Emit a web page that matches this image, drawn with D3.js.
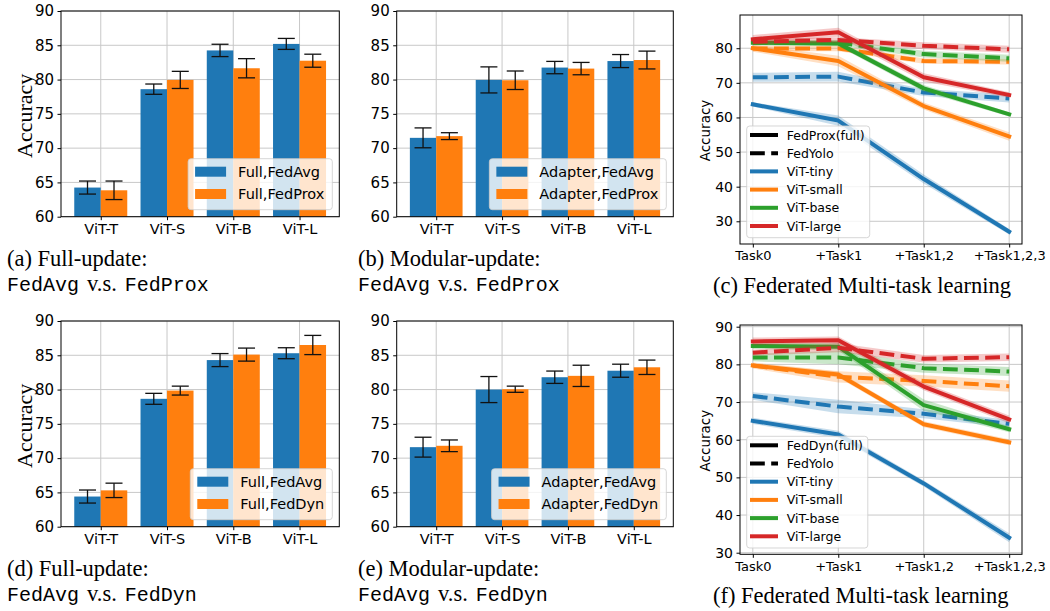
<!DOCTYPE html>
<html><head><meta charset="utf-8">
<script src="https://cdn.jsdelivr.net/npm/d3@7"></script>
<style>body{margin:0;background:#fff}</style>
</head><body><svg id="fig" width="1050" height="611" xmlns="http://www.w3.org/2000/svg"></svg>
<script>
// ---------------- DATA ----------------
const models = ["ViT-T","ViT-S","ViT-B","ViT-L"];
const barTicks = [60,65,70,75,80,85,90];
// (a) Full-update FedAvg vs FedProx
const aFedAvg = [64.25, 78.6, 84.25, 85.2];
const aFedAvgErr = [0.95, 0.75, 0.9, 0.8];
const aFedProx = [63.85, 79.95, 81.65, 82.75];
const aFedProxErr = [1.35, 1.25, 1.4, 0.95];
// (b) Modular-update FedAvg vs FedProx
const bFedAvg = [71.5, 79.95, 81.75, 82.7];
const bFedAvgErr = [1.45, 1.9, 0.9, 0.95];
const bFedProx = [71.75, 79.9, 81.6, 82.85];
const bFedProxErr = [0.5, 1.35, 0.9, 1.3];
// (d) Full-update FedAvg vs FedDyn
const dFedAvg = [64.4, 78.65, 84.3, 85.3];
const dFedAvgErr = [0.95, 0.8, 0.95, 0.8];
const dFedDyn = [65.3, 79.85, 85.1, 86.5];
const dFedDynErr = [1.05, 0.65, 0.95, 1.4];
// (e) Modular-update FedAvg vs FedDyn
const eFedAvg = [71.6, 80.0, 81.8, 82.75];
const eFedAvgErr = [1.45, 1.9, 0.9, 0.95];
const eFedDyn = [71.8, 80.05, 82.0, 83.25];
const eFedDynErr = [0.85, 0.45, 1.55, 1.05];

// Multi-task panels
const tasks = ["Task0","+Task1","+Task1,2","+Task1,2,3"];
const sizes = ["ViT-tiny","ViT-small","ViT-base","ViT-large"];
// (c) rows: tiny, small, base, large
const cFullMean = [[63.8,59.1,42.2,27.0],[80.0,76.3,63.3,54.5],[81.6,81.4,68.4,60.9],[82.6,84.6,71.6,66.5]];
const cFullStd  = [[0.6,1.5,1.3,0.8],[1.0,1.5,1.0,1.2],[0.6,0.8,1.0,0.6],[1.2,1.3,1.2,0.8]];
const cYoloMean = [[71.6,71.8,67.2,65.5],[79.9,79.9,76.3,76.1],[81.6,81.6,78.3,77.1],[81.9,82.4,80.7,79.7]];
const cYoloStd  = [[1.3,1.4,1.0,1.2],[0.8,0.8,0.8,0.8],[0.8,0.8,1.0,1.0],[0.8,0.8,1.0,1.0]];
const cTicks = [30,40,50,60,70,80];
// (f)
const fFullMean = [[65.0,61.4,48.4,34.0],[79.7,77.3,64.1,59.3],[84.9,84.7,69.2,62.8],[86.1,86.4,74.1,65.4]];
const fFullStd  = [[0.8,1.0,0.8,1.2],[0.6,0.8,0.8,0.8],[0.8,1.0,1.5,0.8],[1.0,1.0,1.0,1.0]];
const fYoloMean = [[71.6,68.8,66.9,64.2],[79.7,76.7,75.6,74.2],[81.8,81.8,79.0,78.1],[83.1,84.4,81.5,81.9]];
const fYoloStd  = [[1.0,1.8,1.2,1.0],[0.8,1.5,1.5,1.5],[1.0,1.8,1.2,1.2],[0.8,1.2,1.0,1.0]];
const fTicks = [30,40,50,60,70,80,90];

// ---------------- STYLE ----------------
const BLUE="#1f77b4", ORANGE="#ff7f0e", GREEN="#2ca02c", RED="#d62728";
const lineColors=[BLUE,ORANGE,GREEN,RED];
const SANS="'DejaVu Sans', sans-serif";
const SERIF="'Liberation Serif','Times New Roman', serif";
const MONO="'Liberation Mono', monospace";
const GRID="#c8c8c8";

const svg = d3.select("#fig");

function measure(txt, size, family){
  const t = svg.append("text").attr("font-family",family).attr("font-size",size).text(txt);
  const w = t.node().getComputedTextLength(); t.remove(); return w;
}

function barPanel(o){
  const g = svg.append("g");
  const x = d3.scaleLinear().domain([-0.6,3.6]).range([o.x0,o.x1]);
  const y = d3.scaleLinear().domain([60,90]).range([o.y1,o.y0]);
  g.append("g").selectAll("line").data(barTicks).join("line")
    .attr("x1",o.x0).attr("x2",o.x1).attr("y1",d=>y(d)).attr("y2",d=>y(d))
    .attr("stroke",GRID).attr("stroke-width",1);
  g.append("g").selectAll("line").data(models.map((m,i)=>i)).join("line")
    .attr("x1",d=>x(d)).attr("x2",d=>x(d)).attr("y1",o.y0).attr("y2",o.y1)
    .attr("stroke",GRID).attr("stroke-width",1);
  const series=[{v:o.s1,e:o.e1,c:BLUE,off:-0.4},{v:o.s2,e:o.e2,c:ORANGE,off:0}];
  series.forEach(s=>{
    g.append("g").selectAll("rect").data(s.v).join("rect")
      .attr("x",(d,i)=>x(i+s.off)).attr("width",(d,i)=>x(i+s.off+0.4)-x(i+s.off))
      .attr("y",d=>y(d)).attr("height",d=>y(60)-y(d)).attr("fill",s.c);
  });
  series.forEach(s=>{
    const eg=g.append("g").attr("stroke","#111").attr("stroke-width",1.3);
    s.v.forEach((d,i)=>{
      const cx=x(i+s.off+0.2), lo=y(d-s.e[i]), hi=y(d+s.e[i]);
      eg.append("line").attr("x1",cx).attr("x2",cx).attr("y1",lo).attr("y2",hi);
      eg.append("line").attr("x1",cx-8.5).attr("x2",cx+8.5).attr("y1",lo).attr("y2",lo);
      eg.append("line").attr("x1",cx-8.5).attr("x2",cx+8.5).attr("y1",hi).attr("y2",hi);
    });
  });
  const ax=g.append("g").attr("transform",`translate(${o.x0},0)`)
    .call(d3.axisLeft(y).tickValues(barTicks).tickSize(3.5).tickPadding(3.5).tickSizeOuter(0));
  const bx=g.append("g").attr("transform",`translate(0,${o.y1})`)
    .call(d3.axisBottom(x).tickValues([0,1,2,3]).tickFormat(i=>models[i]).tickSize(3.5).tickPadding(3.5).tickSizeOuter(0));
  ax.selectAll("text").attr("font-size",15);
  bx.selectAll("text").attr("font-size",14.5);
  [ax,bx].forEach(a=>{a.select(".domain").remove(); a.selectAll("text").attr("font-family",SANS).attr("fill","#000"); a.selectAll("line").attr("stroke","#000").attr("stroke-width",1);});
  g.append("rect").attr("x",o.x0).attr("y",o.y0).attr("width",o.x1-o.x0).attr("height",o.y1-o.y0)
    .attr("fill","none").attr("stroke","#000").attr("stroke-width",1);
  if(o.ylabel){
    const cy=(o.y0+o.y1)/2+2;
    g.append("text").attr("transform",`translate(32,${cy}) rotate(-90)`).attr("text-anchor","middle")
      .attr("font-family",SERIF).attr("font-size",22).text("Accuracy");
  }
  const fs=14.5;
  const tw=Math.max(measure(o.labels[0],fs,SANS),measure(o.labels[1],fs,SANS));
  const lw=7+31+12+tw+8, lh=51;
  const lx=o.x1-7-lw, ly=o.y1-7-lh;
  const lg=g.append("g");
  lg.append("rect").attr("x",lx).attr("y",ly).attr("width",lw).attr("height",lh).attr("rx",3)
    .attr("fill","#fff").attr("fill-opacity",0.8).attr("stroke","#cccccc").attr("stroke-opacity",0.8).attr("stroke-width",1);
  [BLUE,ORANGE].forEach((c,k)=>{
    const cy=ly+13+k*22.3;
    lg.append("rect").attr("x",lx+7).attr("y",cy-5).attr("width",31).attr("height",10).attr("fill",c);
    lg.append("text").attr("x",lx+7+31+12).attr("y",cy).attr("dy","0.36em")
      .attr("font-family",SANS).attr("font-size",fs).text(o.labels[k]);
  });
}

function linePanel(o){
  const g = svg.append("g");
  const x = d3.scaleLinear().domain([-0.15,3.15]).range([o.x0,o.x1]);
  const y = d3.scaleLinear().domain(o.ydom).range([o.y1,o.y0]);
  g.append("g").selectAll("line").data(o.ticks).join("line")
    .attr("x1",o.x0).attr("x2",o.x1).attr("y1",d=>y(d)).attr("y2",d=>y(d))
    .attr("stroke",GRID).attr("stroke-width",1);
  g.append("g").selectAll("line").data([0,1,2,3]).join("line")
    .attr("x1",d=>x(d)).attr("x2",d=>x(d)).attr("y1",o.y0).attr("y2",o.y1)
    .attr("stroke",GRID).attr("stroke-width",1);
  const line=d3.line().x((d,i)=>x(i)).y(d=>y(d));
  const area=(m,s)=>d3.area().x((d,i)=>x(i)).y0((d,i)=>y(m[i]-s[i])).y1((d,i)=>y(m[i]+s[i]))(m);
  for(let k=0;k<4;k++){
    const c=lineColors[k];
    g.append("path").attr("d",area(o.full[k],o.fullStd[k])).attr("fill",c).attr("fill-opacity",0.25);
    g.append("path").attr("d",line(o.full[k])).attr("fill","none").attr("stroke",c).attr("stroke-width",4)
      .attr("stroke-linejoin","round").attr("stroke-linecap","square");
    g.append("path").attr("d",area(o.yolo[k],o.yoloStd[k])).attr("fill",c).attr("fill-opacity",0.25);
    g.append("path").attr("d",line(o.yolo[k])).attr("fill","none").attr("stroke",c).attr("stroke-width",4)
      .attr("stroke-linejoin","round").attr("stroke-dasharray","14.8 6.4");
  }
  const ax=g.append("g").attr("transform",`translate(${o.x0},0)`)
    .call(d3.axisLeft(y).tickValues(o.ticks).tickSize(3.5).tickPadding(3.5).tickSizeOuter(0));
  const bx=g.append("g").attr("transform",`translate(0,${o.y1})`)
    .call(d3.axisBottom(x).tickValues([0,1,2,3]).tickFormat(i=>tasks[i]).tickSize(3.5).tickPadding(3.5).tickSizeOuter(0));
  ax.selectAll("text").attr("font-size",14);
  bx.selectAll("text").attr("font-size",13);
  [ax,bx].forEach(a=>{a.select(".domain").remove(); a.selectAll("text").attr("font-family",SANS).attr("fill","#000"); a.selectAll("line").attr("stroke","#000").attr("stroke-width",1);});
  g.append("rect").attr("x",o.x0).attr("y",o.y0).attr("width",o.x1-o.x0).attr("height",o.y1-o.y0)
    .attr("fill","none").attr("stroke","#000").attr("stroke-width",1);
  g.append("text").attr("transform",`translate(710,${(o.y0+o.y1)/2+1}) rotate(-90)`).attr("text-anchor","middle")
    .attr("font-family",SANS).attr("font-size",13.5).text("Accuracy");
  const labels=[o.fullLabel,"FedYolo"].concat(sizes);
  const fs=12.5;
  const tw=d3.max(labels,l=>measure(l,fs,SANS));
  const lw=3+28+9+tw+5, lh=111.7;
  const lx=o.x0+6.7, ly=o.y1-6.3-lh;
  const lg=g.append("g");
  lg.append("rect").attr("x",lx).attr("y",ly).attr("width",lw).attr("height",lh).attr("rx",3)
    .attr("fill","#fff").attr("fill-opacity",0.8).attr("stroke","#cccccc").attr("stroke-opacity",0.8);
  labels.forEach((l,k)=>{
    const cy=ly+9+k*18.2;
    const c = k<2 ? "#000" : lineColors[k-2];
    const ln=lg.append("line").attr("x1",lx+3.3).attr("x2",lx+31.3).attr("y1",cy).attr("y2",cy)
      .attr("stroke",c).attr("stroke-width",4);
    if(k===1) ln.attr("stroke-dasharray","14.8 6.4");
    lg.append("text").attr("x",lx+40).attr("y",cy).attr("dy","0.36em")
      .attr("font-family",SANS).attr("font-size",fs).text(l);
  });
}

function caption(x,yb,line1,m1,m2){
  svg.append("text").attr("x",x).attr("y",yb).attr("font-family",SERIF).attr("font-size",22.5).text(line1);
  if(m1){
    const t=svg.append("text").attr("x",x).attr("y",yb+24.5);
    t.append("tspan").attr("font-family",MONO).attr("font-size",20).text(m1);
    t.append("tspan").attr("dx",8).attr("font-family",SERIF).attr("font-size",22.5).text("v.s.");
    t.append("tspan").attr("dx",8).attr("font-family",MONO).attr("font-size",20).text(m2);
  }
}

barPanel({x0:61,x1:339.3,y0:11,y1:216.7,s1:aFedAvg,e1:aFedAvgErr,s2:aFedProx,e2:aFedProxErr,labels:["Full,FedAvg","Full,FedProx"],ylabel:true});
barPanel({x0:396.7,x1:673.3,y0:11,y1:216.7,s1:bFedAvg,e1:bFedAvgErr,s2:bFedProx,e2:bFedProxErr,labels:["Adapter,FedAvg","Adapter,FedProx"],ylabel:false});
barPanel({x0:61,x1:339.3,y0:321,y1:526.7,s1:dFedAvg,e1:dFedAvgErr,s2:dFedDyn,e2:dFedDynErr,labels:["Full,FedAvg","Full,FedDyn"],ylabel:true});
barPanel({x0:396.7,x1:673.3,y0:321,y1:526.7,s1:eFedAvg,e1:eFedAvgErr,s2:eFedDyn,e2:eFedDynErr,labels:["Adapter,FedAvg","Adapter,FedDyn"],ylabel:false});
linePanel({x0:740,x1:1022,y0:15,y1:244,ydom:[23.44,89.6],ticks:cTicks,full:cFullMean,fullStd:cFullStd,yolo:cYoloMean,yoloStd:cYoloStd,fullLabel:"FedProx(full)"});
linePanel({x0:740,x1:1022,y0:325,y1:554.3,ydom:[29.58,90.45],ticks:fTicks,full:fFullMean,fullStd:fFullStd,yolo:fYoloMean,yoloStd:fYoloStd,fullLabel:"FedDyn(full)"});

caption(7,266,"(a) Full-update:","FedAvg","FedProx");
caption(358,266,"(b) Modular-update:","FedAvg","FedProx");
caption(713,292.7,"(c) Federated Multi-task learning");
caption(7,576,"(d) Full-update:","FedAvg","FedDyn");
caption(358,576,"(e) Modular-update:","FedAvg","FedDyn");
caption(713,602.7,"(f) Federated Multi-task learning");
</script></body></html>
